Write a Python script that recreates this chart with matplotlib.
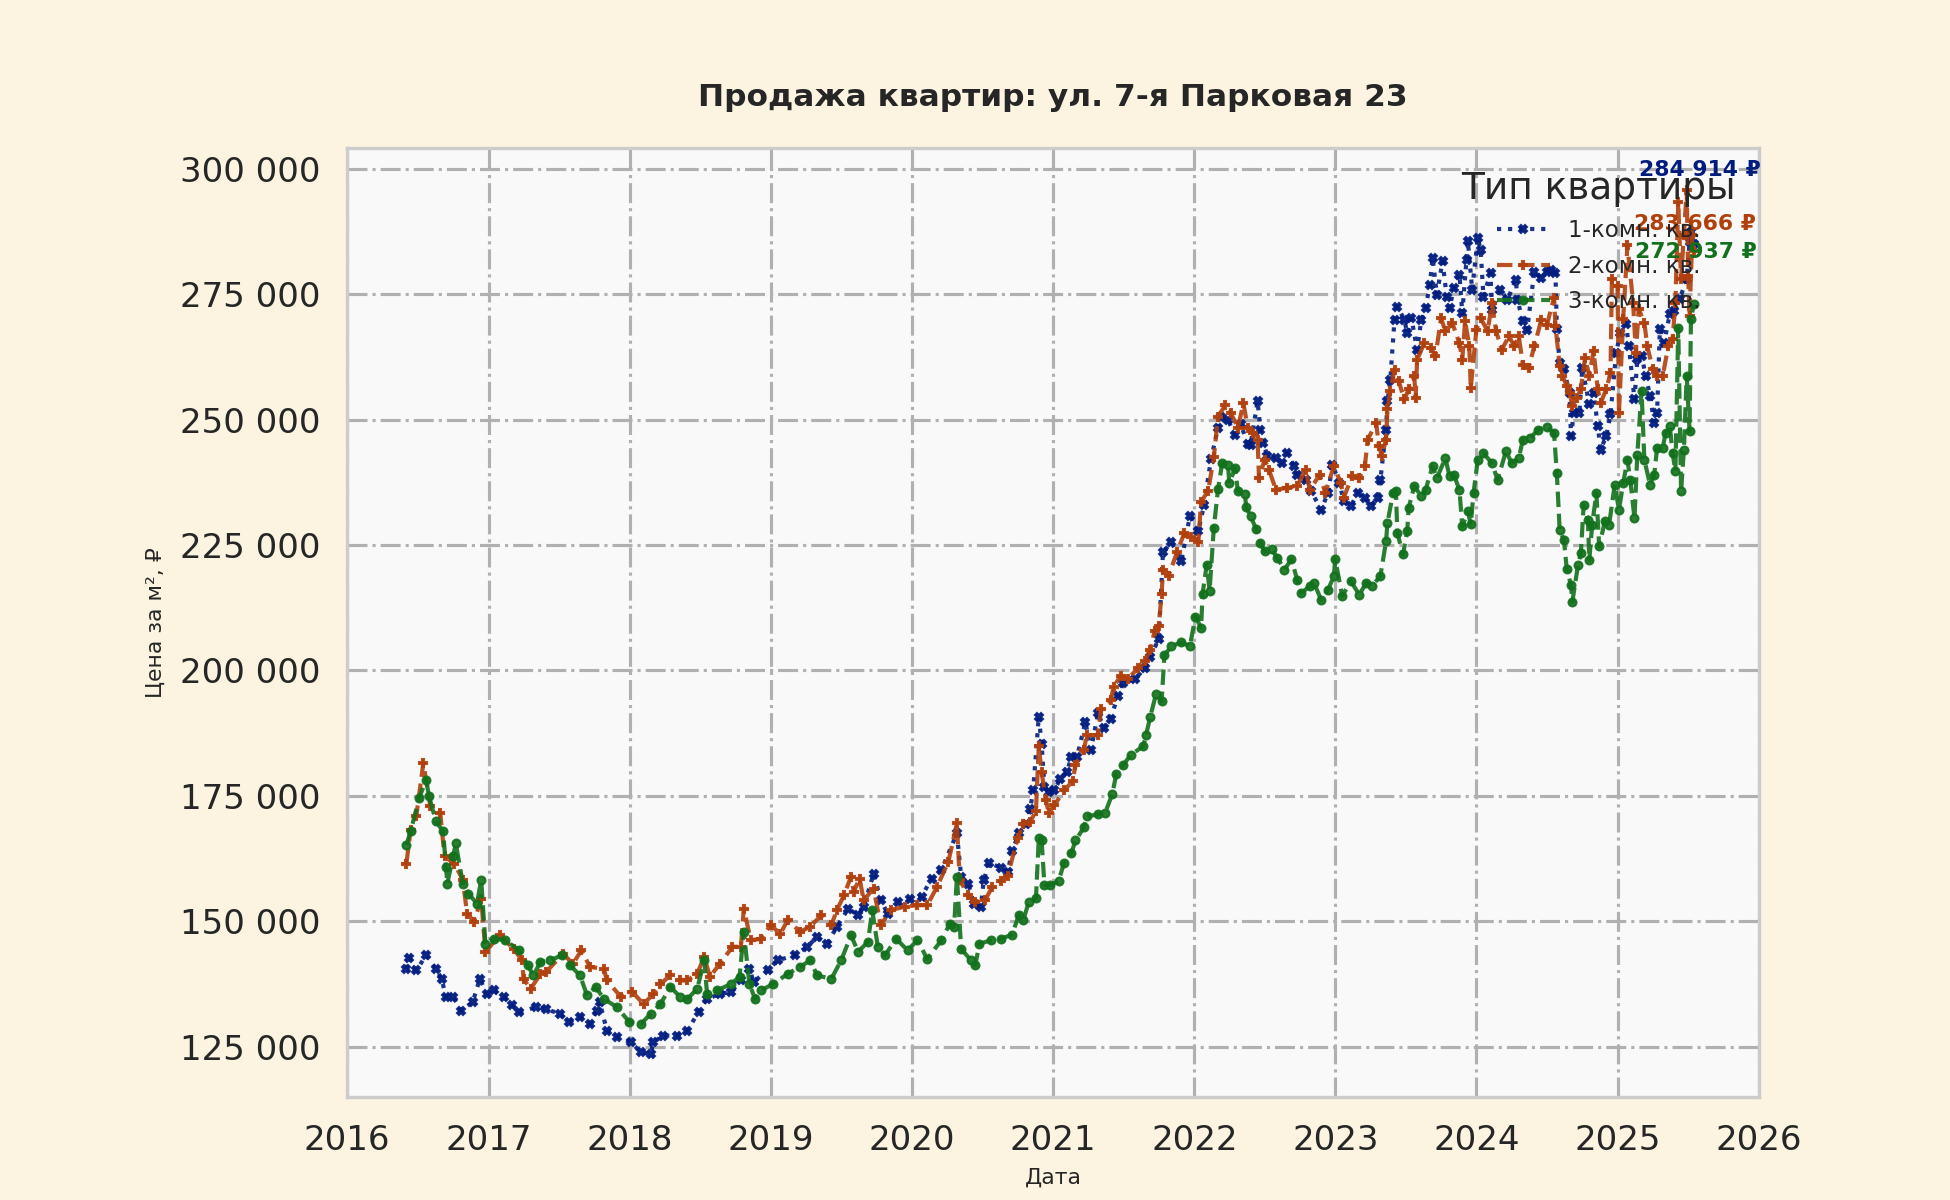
import matplotlib
matplotlib.use("Agg")
import matplotlib.pyplot as plt
import matplotlib.dates as mdates
from matplotlib.ticker import FuncFormatter
import pandas as pd
import numpy as np

plt.rcParams['font.family'] = ['DejaVu Sans', 'Noto Sans']

TITLE = "Продажа квартир: ул. 7-я Парковая 23"
XLABEL = "Дата"
YLABEL = "Цена за м², ₽"
LEGEND_TITLE = "Тип квартиры"
SERIES_NAMES = ["1-комн. кв.", "2-комн. кв.", "3-комн. кв."]
COLORS = ["#001c7f", "#b1400d", "#12711c"]

# decimal-year dates and prices (thousand RUB per m²)
x1 = [2016.42, 2016.44, 2016.49, 2016.56, 2016.63, 2016.67, 2016.70, 2016.75, 2016.81, 2016.89,
      2016.94, 2016.99, 2017.04, 2017.11, 2017.17, 2017.22, 2017.34, 2017.41, 2017.51, 2017.57,
      2017.65, 2017.72, 2017.77, 2017.79, 2017.84, 2017.91, 2018.01, 2018.08, 2018.15, 2018.17,
      2018.24, 2018.34, 2018.41, 2018.49, 2018.55, 2018.64, 2018.72, 2018.79, 2018.85, 2018.88,
      2018.98, 2019.05, 2019.17, 2019.26, 2019.33, 2019.40, 2019.47, 2019.55, 2019.62, 2019.66,
      2019.73, 2019.78, 2019.83, 2019.90, 2019.99, 2020.07, 2020.14, 2020.21, 2020.32, 2020.35,
      2020.40, 2020.44, 2020.49, 2020.51, 2020.55, 2020.63, 2020.68, 2020.71, 2020.76, 2020.81,
      2020.84, 2020.86, 2020.90, 2020.92, 2020.94, 2020.97, 2021.01, 2021.05, 2021.10, 2021.13,
      2021.17, 2021.23, 2021.27, 2021.32, 2021.36, 2021.41, 2021.46, 2021.50, 2021.58, 2021.65,
      2021.69, 2021.75, 2021.78, 2021.84, 2021.91, 2021.97, 2022.03, 2022.07, 2022.12, 2022.17,
      2022.19, 2022.24, 2022.29, 2022.33, 2022.38, 2022.40, 2022.45, 2022.47, 2022.49, 2022.52,
      2022.58, 2022.62, 2022.66, 2022.71, 2022.73, 2022.79, 2022.83, 2022.90, 2022.95, 2022.98,
      2023.03, 2023.06, 2023.11, 2023.16, 2023.21, 2023.25, 2023.30, 2023.32, 2023.36, 2023.37,
      2023.39, 2023.42, 2023.44, 2023.49, 2023.51, 2023.54, 2023.58, 2023.61, 2023.64, 2023.67,
      2023.69, 2023.72, 2023.76, 2023.79, 2023.81, 2023.84, 2023.88, 2023.90, 2023.93, 2023.94,
      2023.97, 2024.01, 2024.03, 2024.05, 2024.10, 2024.11, 2024.17, 2024.22, 2024.28, 2024.29,
      2024.33, 2024.36, 2024.41, 2024.46, 2024.50, 2024.53, 2024.56, 2024.57, 2024.59, 2024.62,
      2024.66, 2024.67, 2024.69, 2024.73, 2024.75, 2024.80, 2024.83, 2024.86, 2024.88, 2024.92,
      2024.95, 2024.99, 2025.02, 2025.06, 2025.08, 2025.12, 2025.14, 2025.17, 2025.20, 2025.23,
      2025.26, 2025.28, 2025.30, 2025.33, 2025.37, 2025.40, 2025.44, 2025.49, 2025.51, 2025.52,
      2025.54]
y1 = [140.5, 142.7, 140.2, 143.2, 140.5, 138.5, 134.9, 134.9, 132.2, 133.9,
      138.5, 135.5, 136.2, 134.9, 133.2, 131.9, 132.9, 132.5, 131.5, 129.9,
      130.9, 129.5, 132.2, 133.9, 128.2, 126.9, 125.9, 123.9, 123.5, 125.9,
      127.2, 127.2, 128.2, 131.9, 134.5, 135.5, 135.9, 138.2, 140.5, 137.9,
      140.2, 142.2, 143.2, 144.9, 146.9, 145.5, 148.9, 152.5, 151.2, 152.9,
      159.5, 154.2, 151.5, 153.9, 154.5, 154.9, 158.5, 160.2, 167.5, 158.9,
      157.5, 153.5, 152.9, 158.2, 161.7, 160.6, 159.8, 163.9, 167.6, 169.4,
      172.4, 176.1, 190.8, 185.3, 176.8, 175.7, 176.1, 178.3, 179.7, 182.7,
      182.7, 189.7, 184.2, 191.5, 188.6, 190.4, 194.9, 197.5, 198.2, 200.4,
      202.6, 206.3, 223.6, 225.5, 221.8, 230.7, 227.7, 232.9, 242.1, 248.4,
      250.6, 249.9, 246.9, 249.1, 245.1, 245.0, 253.6, 247.9, 245.3, 242.7,
      242.3, 241.3, 243.3, 240.7, 239.0, 238.0, 235.7, 232.0, 235.4, 241.0,
      237.4, 233.7, 232.7, 235.4, 234.4, 232.7, 234.4, 238.0, 248.0, 253.6,
      257.9, 269.9, 272.5, 269.9, 267.2, 270.2, 263.9, 269.9, 272.2, 276.9,
      282.2, 274.9, 281.5, 274.5, 272.2, 276.2, 278.9, 271.2, 281.8, 285.5,
      275.9, 286.2, 283.8, 274.5, 279.2, 271.9, 275.9, 273.9, 277.9, 273.9,
      269.6, 267.9, 279.5, 278.2, 279.5, 279.8, 279.3, 268.0, 261.3, 260.0,
      255.3, 246.7, 251.3, 251.3, 260.3, 253.0, 255.3, 248.7, 244.0, 246.7,
      251.0, 263.3, 267.3, 269.0, 264.7, 254.0, 262.0, 262.7, 258.7, 254.7,
      249.3, 251.3, 268.0, 265.3, 271.0, 271.7, 274.0, 278.0, 285.3, 287.3,
      284.914]

x2 = [2016.42, 2016.45, 2016.49, 2016.54, 2016.59, 2016.66, 2016.69, 2016.76, 2016.82, 2016.85,
      2016.90, 2016.95, 2016.98, 2017.08, 2017.18, 2017.24, 2017.25, 2017.30, 2017.37, 2017.41,
      2017.53, 2017.60, 2017.66, 2017.72, 2017.82, 2017.84, 2017.94, 2018.02, 2018.10, 2018.17,
      2018.22, 2018.29, 2018.36, 2018.41, 2018.48, 2018.53, 2018.57, 2018.64, 2018.73, 2018.79,
      2018.81, 2018.86, 2018.93, 2019.00, 2019.07, 2019.12, 2019.21, 2019.28, 2019.36, 2019.43,
      2019.47, 2019.52, 2019.57, 2019.59, 2019.63, 2019.66, 2019.73, 2019.78, 2019.85, 2019.95,
      2020.04, 2020.11, 2020.18, 2020.26, 2020.32, 2020.34, 2020.40, 2020.45, 2020.52, 2020.57,
      2020.63, 2020.68, 2020.75, 2020.79, 2020.84, 2020.88, 2020.90, 2020.92, 2020.95, 2020.97,
      2021.01, 2021.08, 2021.14, 2021.16, 2021.22, 2021.24, 2021.32, 2021.34, 2021.41, 2021.43,
      2021.48, 2021.53, 2021.60, 2021.65, 2021.69, 2021.72, 2021.75, 2021.77, 2021.78, 2021.82,
      2021.88, 2021.93, 2021.98, 2022.03, 2022.05, 2022.10, 2022.14, 2022.17, 2022.22, 2022.26,
      2022.31, 2022.35, 2022.38, 2022.42, 2022.45, 2022.46, 2022.50, 2022.53, 2022.58, 2022.66,
      2022.73, 2022.79, 2022.82, 2022.89, 2022.93, 2022.99, 2023.04, 2023.06, 2023.12, 2023.17,
      2023.21, 2023.23, 2023.29, 2023.31, 2023.33, 2023.36, 2023.37, 2023.39, 2023.42, 2023.45,
      2023.49, 2023.52, 2023.56, 2023.57, 2023.58, 2023.63, 2023.68, 2023.71, 2023.75, 2023.78,
      2023.83, 2023.88, 2023.90, 2023.92, 2023.95, 2023.96, 2024.00, 2024.03, 2024.08, 2024.11,
      2024.14, 2024.18, 2024.23, 2024.27, 2024.30, 2024.33, 2024.37, 2024.41, 2024.46, 2024.50,
      2024.55, 2024.56, 2024.59, 2024.61, 2024.64, 2024.66, 2024.68, 2024.71, 2024.74, 2024.77,
      2024.80, 2024.83, 2024.86, 2024.88, 2024.92, 2024.95, 2024.96, 2025.00, 2025.01, 2025.04,
      2025.07, 2025.11, 2025.13, 2025.15, 2025.19, 2025.21, 2025.25, 2025.28, 2025.32, 2025.36,
      2025.39, 2025.41, 2025.43, 2025.45, 2025.47, 2025.49, 2025.50, 2025.51, 2025.53, 2025.54]
y2 = [161.5, 168.2, 170.9, 181.5, 172.9, 171.5, 162.9, 161.5, 158.2, 151.5,
      149.9, 154.5, 143.9, 147.2, 144.5, 142.2, 138.5, 136.5, 139.5, 139.9,
      143.5, 141.5, 144.2, 140.9, 140.5, 138.2, 134.9, 135.9, 133.5, 135.5,
      137.5, 139.2, 138.2, 138.2, 139.5, 142.9, 138.9, 141.5, 144.9, 144.9,
      152.5, 146.2, 146.5, 149.2, 147.5, 150.2, 147.9, 148.9, 151.2, 149.2,
      152.2, 155.2, 158.9, 155.9, 158.5, 154.2, 156.5, 149.2, 152.2, 152.9,
      153.2, 153.2, 156.9, 161.9, 169.5, 158.2, 155.2, 153.9, 154.2, 156.8,
      158.0, 159.1, 166.5, 169.4, 169.8, 172.0, 184.9, 179.7, 174.2, 171.6,
      173.1, 176.1, 177.9, 181.2, 184.2, 187.1, 187.1, 192.3, 194.1, 196.7,
      198.9, 198.2, 200.4, 201.9, 204.1, 207.8, 208.9, 215.2, 220.0, 218.9,
      223.6, 227.3, 226.6, 225.5, 233.6, 235.8, 242.5, 250.6, 252.8, 251.3,
      248.4, 253.2, 248.4, 247.3, 246.0, 238.3, 242.0, 240.0, 236.0, 236.4,
      236.7, 240.0, 236.0, 239.0, 235.4, 240.7, 237.4, 234.4, 238.7, 238.3,
      240.7, 246.0, 249.3, 244.7, 242.7, 246.0, 252.0, 255.6, 259.9, 257.6,
      254.0, 256.0, 258.6, 254.3, 261.9, 265.2, 264.2, 262.6, 270.2, 267.6,
      269.2, 265.2, 261.9, 269.6, 264.6, 256.3, 267.9, 270.2, 267.6, 273.2,
      267.6, 263.9, 266.6, 264.6, 266.6, 260.9, 260.3, 264.6, 269.9, 268.9,
      274.3, 268.7, 260.7, 258.7, 256.7, 255.3, 252.7, 254.3, 256.0, 262.3,
      258.7, 263.7, 256.0, 253.3, 256.0, 259.3, 278.0, 276.7, 251.3, 270.0,
      284.7, 273.3, 263.3, 272.0, 269.3, 264.7, 260.0, 258.7, 258.7, 264.7,
      266.0, 273.3, 293.3, 278.0, 286.7, 295.7, 278.7, 270.7, 286.7, 283.666]

x3 = [2016.42, 2016.45, 2016.51, 2016.56, 2016.58, 2016.63, 2016.68, 2016.70, 2016.71, 2016.75,
      2016.77, 2016.82, 2016.86, 2016.92, 2016.95, 2016.98, 2017.04, 2017.12, 2017.22, 2017.28,
      2017.32, 2017.37, 2017.44, 2017.52, 2017.58, 2017.65, 2017.70, 2017.76, 2017.82, 2017.91,
      2018.00, 2018.08, 2018.15, 2018.22, 2018.29, 2018.36, 2018.41, 2018.48, 2018.53, 2018.55,
      2018.62, 2018.72, 2018.78, 2018.81, 2018.85, 2018.89, 2018.93, 2019.02, 2019.12, 2019.21,
      2019.28, 2019.33, 2019.43, 2019.50, 2019.57, 2019.62, 2019.69, 2019.72, 2019.76, 2019.81,
      2019.89, 2019.97, 2020.04, 2020.11, 2020.21, 2020.27, 2020.30, 2020.32, 2020.35, 2020.42,
      2020.45, 2020.48, 2020.56, 2020.63, 2020.71, 2020.76, 2020.79, 2020.83, 2020.88, 2020.90,
      2020.92, 2020.94, 2020.98, 2021.04, 2021.08, 2021.13, 2021.16, 2021.22, 2021.24, 2021.32,
      2021.37, 2021.42, 2021.45, 2021.50, 2021.55, 2021.64, 2021.66, 2021.69, 2021.73, 2021.77,
      2021.79, 2021.84, 2021.91, 2021.97, 2022.01, 2022.05, 2022.06, 2022.09, 2022.11, 2022.14,
      2022.17, 2022.20, 2022.24, 2022.25, 2022.29, 2022.31, 2022.36, 2022.37, 2022.40, 2022.44,
      2022.47, 2022.50, 2022.55, 2022.59, 2022.64, 2022.69, 2022.73, 2022.76, 2022.82, 2022.85,
      2022.90, 2022.95, 2022.99, 2023.00, 2023.05, 2023.11, 2023.17, 2023.22, 2023.26, 2023.32,
      2023.36, 2023.37, 2023.41, 2023.43, 2023.44, 2023.48, 2023.51, 2023.52, 2023.56, 2023.61,
      2023.64, 2023.69, 2023.72, 2023.78, 2023.81, 2023.84, 2023.88, 2023.90, 2023.94, 2023.96,
      2023.98, 2024.01, 2024.05, 2024.11, 2024.15, 2024.21, 2024.25, 2024.30, 2024.33, 2024.38,
      2024.44, 2024.50, 2024.55, 2024.57, 2024.59, 2024.62, 2024.64, 2024.67, 2024.68, 2024.72,
      2024.74, 2024.76, 2024.79, 2024.80, 2024.82, 2024.85, 2024.87, 2024.91, 2024.94, 2024.98,
      2025.01, 2025.04, 2025.07, 2025.09, 2025.12, 2025.14, 2025.17, 2025.19, 2025.23, 2025.26,
      2025.28, 2025.32, 2025.34, 2025.37, 2025.39, 2025.41, 2025.43, 2025.45, 2025.47, 2025.49,
      2025.51, 2025.52, 2025.54]
y3 = [165.2, 167.9, 174.5, 178.2, 174.9, 169.9, 167.9, 160.9, 157.5, 162.9,
      165.5, 157.5, 155.5, 153.5, 158.2, 145.5, 146.5, 146.2, 144.2, 141.2,
      139.2, 141.9, 142.2, 143.2, 141.2, 139.2, 135.2, 136.9, 134.5, 132.9,
      129.9, 129.5, 131.5, 133.5, 136.9, 134.9, 134.5, 136.5, 142.2, 135.5,
      136.2, 137.5, 138.9, 147.9, 137.5, 134.5, 136.2, 137.5, 139.5, 140.9,
      142.2, 139.2, 138.5, 142.2, 147.2, 143.9, 145.9, 152.2, 144.9, 143.2,
      146.5, 144.2, 146.2, 142.5, 146.2, 149.5, 148.9, 158.9, 144.5, 142.2,
      141.2, 145.5, 146.2, 146.5, 147.3, 151.3, 150.2, 153.9, 154.6, 166.5,
      166.1, 157.2, 157.2, 158.0, 161.7, 163.5, 166.1, 168.7, 170.9, 171.3,
      171.6, 175.3, 179.4, 181.2, 183.1, 184.9, 187.1, 190.8, 195.2, 193.8,
      203.0, 204.8, 205.6, 204.8, 210.7, 208.5, 215.2, 221.1, 215.9, 228.4,
      236.2, 241.4, 241.0, 237.3, 240.3, 235.8, 235.1, 232.5, 230.7, 228.2,
      225.4, 223.7, 224.1, 222.4, 220.1, 222.1, 218.1, 215.4, 216.8, 217.4,
      214.1, 216.1, 218.8, 222.1, 214.8, 217.8, 215.1, 217.4, 216.8, 218.8,
      225.7, 229.4, 235.4, 235.7, 227.4, 223.1, 227.7, 232.4, 236.7, 234.7,
      236.0, 240.7, 238.3, 242.3, 238.7, 239.0, 236.0, 228.7, 231.7, 229.1,
      235.4, 242.0, 243.3, 241.3, 238.0, 243.7, 241.3, 242.3, 246.0, 246.3,
      248.0, 248.6, 247.3, 239.3, 228.0, 226.0, 220.3, 217.0, 213.7, 221.0,
      223.3, 233.0, 230.0, 222.0, 229.0, 235.3, 224.7, 229.7, 229.0, 237.0,
      232.0, 237.3, 242.0, 238.0, 230.3, 243.0, 255.7, 242.0, 237.0, 239.0,
      244.3, 244.3, 247.3, 248.7, 243.3, 239.7, 268.3, 235.7, 244.0, 258.7,
      247.7, 270.0, 272.937]

Y_TICKS = [125000, 150000, 175000, 200000, 225000, 250000, 275000, 300000]

def to_dates(xs):
    xs = np.asarray(xs, dtype=float)
    return pd.Timestamp("2016-01-01") + pd.to_timedelta((xs - 2016.0) * 365.25, unit="D")

series = [(x1, y1), (x2, y2), (x3, y3)]
linestyles = [":", "--", "--"]
markers = ["X", "P", "o"]
label_offsets = [(32, 35.5), (30, 13), (30, 25)]

fig = plt.figure(figsize=(13, 8), dpi=150, facecolor="#fcf4e1")
ax = fig.add_axes([0.178, 0.086, 0.724, 0.791])
ax.set_facecolor("#f9f9f9")

for (xs, ys), name, col, ls, mk in zip(series, SERIES_NAMES, COLORS, linestyles, markers):
    d = to_dates(xs)
    v = np.asarray(ys) * 1000.0
    ax.plot(d, v, linestyle=ls, marker=mk, markersize=3.8, linewidth=2.0,
            color=col, label=name, alpha=0.9)

for (xs, ys), col, off in zip(series, COLORS, label_offsets):
    d = to_dates(xs)
    last = ys[-1] * 1000.0
    txt = f"{last:,.0f}".replace(",", " ") + " ₽"
    ax.annotate(txt, xy=(d[-1], last), xytext=off, textcoords="offset points",
                ha="right", va="center", fontsize=10.5, fontweight="bold",
                color=col, annotation_clip=False)

ax.set_xlim(pd.Timestamp("2016-01-01"), pd.Timestamp("2026-01-01"))
ax.set_ylim(115000, 304200)
ax.xaxis.set_major_locator(mdates.YearLocator())
ax.xaxis.set_major_formatter(mdates.DateFormatter("%Y"))
ax.set_yticks(Y_TICKS)
ax.yaxis.set_major_formatter(FuncFormatter(lambda v, p: f"{v:,.0f}".replace(",", " ")))

ax.grid(True, which="major", linestyle="-.", linewidth=1.5, color="#b0b0b0")
ax.set_axisbelow(True)
ax.tick_params(axis="both", length=0, labelsize=16.3, labelcolor="#262626", pad=13)
for s in ax.spines.values():
    s.set_color("#cccccc")
    s.set_linewidth(1.6)

ax.set_title(TITLE, fontsize=15, fontweight="bold", color="#262626", pad=20)
ax.set_xlabel(XLABEL, fontsize=10.5, color="#262626", labelpad=5)
ax.set_ylabel(YLABEL, fontsize=10.5, color="#262626", labelpad=6.5)

leg = ax.legend(title=LEGEND_TITLE, loc="upper right", frameon=False, fontsize=11,
                title_fontsize=18, handlelength=2.3, labelspacing=0.55,
                borderaxespad=0.6)
for t in leg.get_texts():
    t.set_color("#262626")
leg.get_title().set_color("#262626")

fig.savefig("out.png", dpi=150, facecolor=fig.get_facecolor())
